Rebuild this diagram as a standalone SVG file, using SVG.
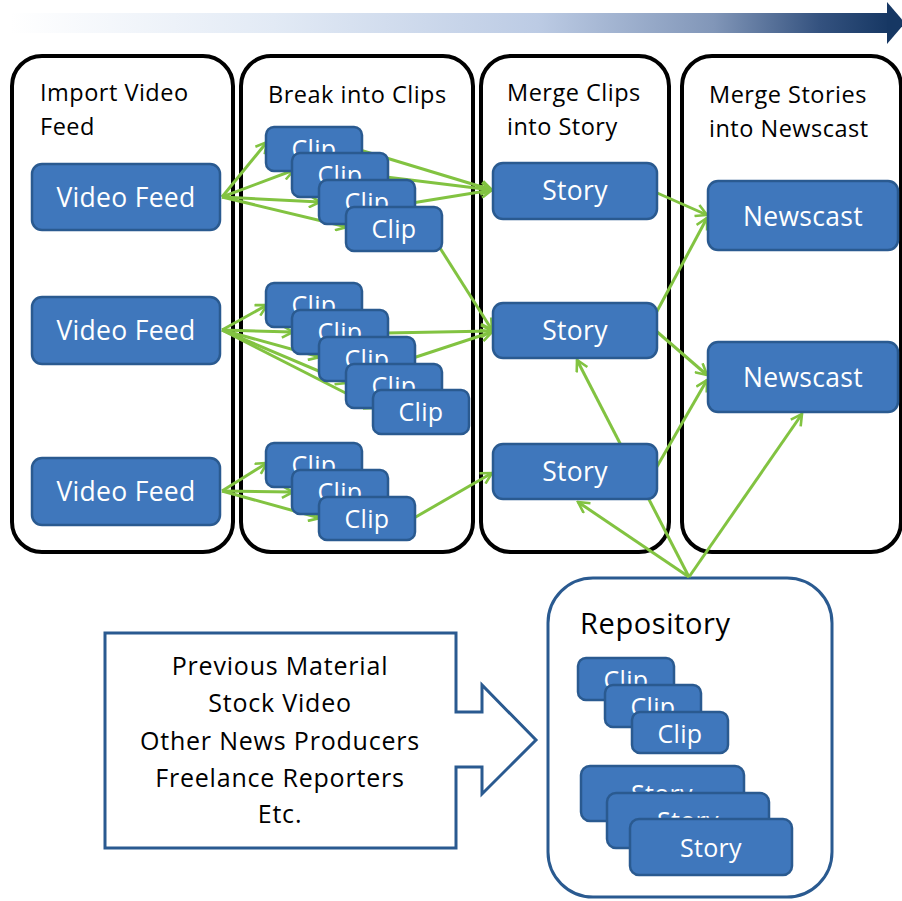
<svg xmlns="http://www.w3.org/2000/svg" width="902" height="901" viewBox="0 0 902 901">
<defs>
<linearGradient id="tl" x1="0" y1="0" x2="1" y2="0">
<stop offset="0" stop-color="#ffffff"/>
<stop offset="0.3" stop-color="#e2eaf5"/>
<stop offset="0.6" stop-color="#bccbe4"/>
<stop offset="0.8" stop-color="#8196b8"/>
<stop offset="0.92" stop-color="#34527f"/>
<stop offset="1" stop-color="#163763"/>
</linearGradient>
<marker id="ah" viewBox="0 0 14 14" refX="12" refY="7" markerWidth="14" markerHeight="14" markerUnits="userSpaceOnUse" orient="auto">
<path d="M1,1 L12,7 L1,13" fill="none" stroke="#82c341" stroke-width="2.6" stroke-linejoin="miter"/>
</marker>
</defs>
<style>
.col{fill:#fff;stroke:#000;stroke-width:4}
.box{fill:#3f77bc;stroke:#2a5a90;stroke-width:2.5}
.bt{fill:#fff;font-family:"Open Sans","Noto Sans",sans-serif;font-size:26.5px;text-anchor:middle;letter-spacing:0.3px}
.ct{fill:#fff;font-family:"Open Sans","Noto Sans",sans-serif;font-size:25px;text-anchor:middle;letter-spacing:0.3px}
.hd{fill:#000;font-family:"Open Sans","Noto Sans",sans-serif;font-size:23.5px;letter-spacing:0.5px}
.bl{fill:#000;font-family:"Open Sans","Noto Sans",sans-serif;font-size:25px;text-anchor:middle;letter-spacing:0.8px}
.c{stroke:#82c341;stroke-width:3;fill:none;marker-end:url(#ah)}
</style>
<rect width="902" height="901" fill="#fff"/>
<g id="timeline">
<rect x="10" y="13" width="880" height="20" fill="url(#tl)"/>
<path d="M887,2 L905,23 L887,44 Z" fill="#163763"/>
</g>
<g id="columns">
<g id="col-import"><rect class="col" x="12" y="56" width="221" height="496" rx="30"/>
<text class="hd" x="40" y="101">Import Video</text><text class="hd" x="40" y="135">Feed</text></g>
<g id="col-break"><rect class="col" x="241" y="56" width="232" height="496" rx="30"/>
<text class="hd" x="268" y="103">Break into Clips</text></g>
<g id="col-merge-clips"><rect class="col" x="481" y="56" width="188" height="496" rx="30"/>
<text class="hd" x="507" y="101">Merge Clips</text><text class="hd" x="507" y="135">into Story</text></g>
<g id="col-merge-stories"><rect class="col" x="682" y="56" width="219" height="496" rx="30"/>
<text class="hd" x="709" y="103">Merge Stories</text><text class="hd" x="709" y="137">into Newscast</text></g>
</g>
<g id="repository">
<rect x="548" y="578" width="284" height="319" rx="45" fill="#fff" stroke="#2a5a90" stroke-width="3"/>
<text x="580" y="634" font-family="'Open Sans','Noto Sans',sans-serif" font-size="29" fill="#000" letter-spacing="0.6">Repository</text>
</g>
<g id="connectors">
<line class="c" x1="222" y1="197" x2="267" y2="142"/>
<line class="c" x1="222" y1="197" x2="294" y2="170"/>
<line class="c" x1="222" y1="197" x2="320" y2="202"/>
<line class="c" x1="222" y1="197" x2="347" y2="227"/>
<line class="c" x1="360" y1="150" x2="492" y2="190"/>
<line class="c" x1="386" y1="177" x2="492" y2="190"/>
<line class="c" x1="412" y1="203" x2="492" y2="190"/>
<line class="c" x1="440" y1="248" x2="492" y2="330"/>
<line class="c" x1="222" y1="330" x2="267" y2="305"/>
<line class="c" x1="222" y1="330" x2="293" y2="332"/>
<line class="c" x1="222" y1="330" x2="320" y2="357"/>
<line class="c" x1="222" y1="330" x2="347" y2="383"/>
<line class="c" x1="222" y1="330" x2="375" y2="408"/>
<line class="c" x1="386" y1="333" x2="492" y2="331"/>
<line class="c" x1="413" y1="358" x2="492" y2="332"/>
<line class="c" x1="222" y1="491" x2="267" y2="463"/>
<line class="c" x1="222" y1="491" x2="293" y2="492"/>
<line class="c" x1="222" y1="491" x2="320" y2="518"/>
<line class="c" x1="414" y1="518" x2="492" y2="473"/>
<line class="c" x1="655" y1="192" x2="707" y2="215"/>
<line class="c" x1="655" y1="315" x2="707" y2="218"/>
<line class="c" x1="655" y1="330" x2="707" y2="375"/>
<line class="c" x1="655" y1="470" x2="707" y2="380"/>
<line class="c" x1="689" y1="577" x2="577" y2="360"/>
<line class="c" x1="689" y1="577" x2="578" y2="502"/>
<line class="c" x1="689" y1="577" x2="802" y2="414"/>
</g>
<g id="video-feed-1"><rect class="box" x="32" y="164" width="188" height="66" rx="10"/><text class="bt" x="126" y="207">Video Feed</text></g>
<g id="video-feed-2"><rect class="box" x="32" y="297" width="188" height="67" rx="10"/><text class="bt" x="126" y="340">Video Feed</text></g>
<g id="video-feed-3"><rect class="box" x="32" y="458" width="188" height="67" rx="10"/><text class="bt" x="126" y="501">Video Feed</text></g>
<g id="clips-1">
<g id="clip-1a"><rect class="box" x="266" y="127" width="96" height="44" rx="8"/><text class="ct" x="314" y="158">Clip</text></g>
<g id="clip-1b"><rect class="box" x="292" y="153" width="96" height="44" rx="8"/><text class="ct" x="340" y="184">Clip</text></g>
<g id="clip-1c"><rect class="box" x="319" y="180" width="96" height="44" rx="8"/><text class="ct" x="367" y="211">Clip</text></g>
<g id="clip-1d"><rect class="box" x="346" y="207" width="96" height="44" rx="8"/><text class="ct" x="394" y="238">Clip</text></g>
</g>
<g id="clips-2">
<g id="clip-2a"><rect class="box" x="266" y="283" width="96" height="44" rx="8"/><text class="ct" x="314" y="314">Clip</text></g>
<g id="clip-2b"><rect class="box" x="292" y="310" width="96" height="44" rx="8"/><text class="ct" x="340" y="341">Clip</text></g>
<g id="clip-2c"><rect class="box" x="319" y="337" width="96" height="44" rx="8"/><text class="ct" x="367" y="368">Clip</text></g>
<g id="clip-2d"><rect class="box" x="346" y="364" width="96" height="44" rx="8"/><text class="ct" x="394" y="395">Clip</text></g>
<g id="clip-2e"><rect class="box" x="373" y="390" width="96" height="44" rx="8"/><text class="ct" x="421" y="421">Clip</text></g>
</g>
<g id="clips-3">
<g id="clip-3a"><rect class="box" x="266" y="443" width="96" height="44" rx="8"/><text class="ct" x="314" y="474">Clip</text></g>
<g id="clip-3b"><rect class="box" x="292" y="470" width="96" height="44" rx="8"/><text class="ct" x="340" y="501">Clip</text></g>
<g id="clip-3c"><rect class="box" x="319" y="497" width="96" height="43" rx="8"/><text class="ct" x="367" y="528">Clip</text></g>
</g>
<g id="story-1"><rect class="box" x="493" y="163" width="164" height="56" rx="10"/><text class="bt" x="575" y="200">Story</text></g>
<g id="story-2"><rect class="box" x="493" y="303" width="164" height="55" rx="10"/><text class="bt" x="575" y="340">Story</text></g>
<g id="story-3"><rect class="box" x="493" y="444" width="164" height="55" rx="10"/><text class="bt" x="575" y="481">Story</text></g>
<g id="newscast-1"><rect class="box" x="708" y="181" width="190" height="69" rx="10"/><text class="bt" x="803" y="226">Newscast</text></g>
<g id="newscast-2"><rect class="box" x="708" y="342" width="190" height="70" rx="10"/><text class="bt" x="803" y="387">Newscast</text></g>
<g id="repo-items">
<g id="repo-clip-1"><rect class="box" x="578" y="658" width="96" height="42" rx="8"/><text class="ct" x="626" y="689">Clip</text></g>
<g id="repo-clip-2"><rect class="box" x="605" y="685" width="96" height="42" rx="8"/><text class="ct" x="653" y="716">Clip</text></g>
<g id="repo-clip-3"><rect class="box" x="632" y="712" width="96" height="41" rx="8"/><text class="ct" x="680" y="743">Clip</text></g>
<g id="repo-story-1"><rect class="box" x="581" y="766" width="163" height="55" rx="9"/><text class="ct" x="662" y="803">Story</text></g>
<g id="repo-story-2"><rect class="box" x="607" y="793" width="162" height="55" rx="9"/><text class="ct" x="688" y="830">Story</text></g>
<g id="repo-story-3"><rect class="box" x="630" y="819" width="162" height="56" rx="9"/><text class="ct" x="711" y="857">Story</text></g>
</g>
<g id="sources">
<path d="M105,633 H456 V712 H482 V685 L536,740 L482,794 V767 H456 V848 H105 Z" fill="#fff" stroke="#2a5a90" stroke-width="3"/>
<text class="bl" x="280" y="675">Previous Material</text>
<text class="bl" x="280" y="712">Stock Video</text>
<text class="bl" x="280" y="750">Other News Producers</text>
<text class="bl" x="280" y="787">Freelance Reporters</text>
<text class="bl" x="280" y="823">Etc.</text>
</g>
</svg>
